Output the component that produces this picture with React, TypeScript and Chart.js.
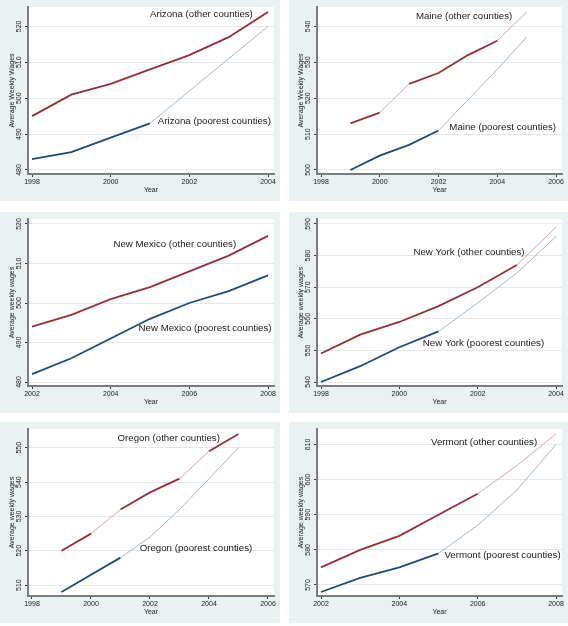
import React, { useEffect, useRef } from "react";
import { Chart, registerables } from "chart.js";

Chart.register(...registerables);

// ---------- data ----------
// Arizona
const azYears = [1998, 1999, 2000, 2001, 2002, 2003, 2004];
const azOther = [495, 501, 504, 508, 512, 517, 524];
const azPoorest = [483, 485, 489, 493, 502, 511, 520];
const azXTicks = [1998, 2000, 2002, 2004];
const azYTicks = [480, 490, 500, 510, 520];

// Maine
const meYears = [1999, 2000, 2001, 2002, 2003, 2004, 2005];
const meOther = [513, 516, 524, 527, 532, 536, 544];
const mePoorest = [500, 504, 507, 511, 519.5, 528, 537];
const meXTicks = [1998, 2000, 2002, 2004, 2006];
const meYTicks = [500, 510, 520, 530, 540];

// New Mexico
const nmYears = [2002, 2003, 2004, 2005, 2006, 2007, 2008];
const nmOther = [494, 497, 501, 504, 508, 512, 517];
const nmPoorest = [482, 486, 491, 496, 500, 503, 507];
const nmXTicks = [2002, 2004, 2006, 2008];
const nmYTicks = [480, 490, 500, 510, 520];

// New York
const nyYears = [1998, 1999, 2000, 2001, 2002, 2003, 2004];
const nyOther = [549, 555, 559, 564, 570, 577, 589];
const nyPoorest = [540, 545, 551, 556, 565, 574.5, 586];
const nyXTicks = [1998, 2000, 2002, 2004];
const nyYTicks = [540, 550, 560, 570, 580, 590];

// Oregon
const orYears = [1999, 2000, 2001, 2002, 2003, 2004, 2005];
const orOther = [520, 525, 532, 537, 541, 549, 554];
const orPoorest = [508, 513, 518, 524, 532, 541, 550];
const orXTicks = [1998, 2000, 2002, 2004, 2006];
const orYTicks = [510, 520, 530, 540, 550];

// Vermont
const vtYears = [2002, 2003, 2004, 2005, 2006, 2007, 2008];
const vtOther = [575, 580, 584, 590, 596, 604, 613];
const vtPoorest = [568, 572, 575, 579, 587, 597, 610];
const vtXTicks = [2002, 2004, 2006, 2008];
const vtYTicks = [570, 580, 590, 600, 610];

// ---------- styles ----------
const FONT = "'Liberation Sans', Arial, Helvetica, sans-serif";
const OUTER_BG = "#e9f1f2";
const GRID = "#e2eaed";
const AXIS = "#7c7c7c";
const TICK = "#3a3a3a";
const TEXT = "#1a1a1a";
const RED = "#952f3c";
const RED_FAINT = "#d9a5ac";
const BLUE = "#1f4a78";
const BLUE_FAINT = "#a5b9d0";

if (typeof document !== "undefined") {
  document.body.style.margin = "0";
}

type Label = { x: number; y: number; text: string };
type PanelCfg = {
  years: number[];
  other: number[];
  poorest: number[];
  xTicks: number[];
  yTicks: number[];
  yTitle: string;
  labels: Label[];
  otherFaint: number[];
  poorestFaint: number[];
  left: number;
  top: number;
  width: number;
};

const PANEL_H = 201;
const Y_AXIS_W = 28;
const X_AXIS_H = 27;
const PAD_TOP = 7;
const PAD_RIGHT = 6;

function Panel({ cfg }: { cfg: PanelCfg }) {
  const ref = useRef<HTMLCanvasElement>(null);
  useEffect(() => {
    const canvas = ref.current;
    if (!canvas) return;
    const plotW = cfg.width - Y_AXIS_W - PAD_RIGHT;
    const plotH = PANEL_H - X_AXIS_H - PAD_TOP;
    const xLo = Math.min(cfg.xTicks[0], cfg.years[0]);
    const xHi = Math.max(cfg.xTicks[cfg.xTicks.length - 1], cfg.years[cfg.years.length - 1]);
    const xppu = (plotW - 4 - 6) / (xHi - xLo);
    const allY = cfg.other.concat(cfg.poorest);
    const yLo = Math.min(cfg.yTicks[0], ...allY);
    const yHi = Math.max(cfg.yTicks[cfg.yTicks.length - 1], ...allY);
    const yppu = (plotH - 4 - 5) / (yHi - yLo);

    const bgPlugin = {
      id: "bg",
      beforeDraw(chart: any) {
        const { ctx, chartArea } = chart;
        ctx.save();
        ctx.fillStyle = OUTER_BG;
        ctx.fillRect(0, 0, chart.width, chart.height);
        ctx.fillStyle = "#ffffff";
        ctx.fillRect(chartArea.left, chartArea.top, chartArea.right - chartArea.left, chartArea.bottom - chartArea.top);
        ctx.restore();
      },
    };
    const labelPlugin = {
      id: "labels",
      afterDatasetsDraw(chart: any) {
        const { ctx, scales } = chart;
        ctx.save();
        ctx.font = `9.7px ${FONT}`;
        ctx.fillStyle = TEXT;
        ctx.textAlign = "left";
        ctx.textBaseline = "middle";
        cfg.labels.forEach((l) => {
          ctx.fillText(l.text, scales.x.getPixelForValue(l.x), scales.y.getPixelForValue(l.y));
        });
        ctx.restore();
      },
    };

    const seg = (faint: number[], c: string, fc: string) => ({
      borderColor: (ctx: any) => (faint.includes(ctx.p0DataIndex) ? fc : c),
      borderWidth: (ctx: any) => (faint.includes(ctx.p0DataIndex) ? 1 : 1.8),
    });

    const chart = new Chart(canvas, {
      type: "line",
      data: {
        datasets: [
          {
            label: "other",
            data: cfg.years.map((y, i) => ({ x: y, y: cfg.other[i] })),
            borderColor: RED,
            borderWidth: 1.8,
            pointRadius: 0,
            tension: 0,
            segment: seg(cfg.otherFaint, RED, RED_FAINT),
          },
          {
            label: "poorest",
            data: cfg.years.map((y, i) => ({ x: y, y: cfg.poorest[i] })),
            borderColor: BLUE,
            borderWidth: 1.8,
            pointRadius: 0,
            tension: 0,
            segment: seg(cfg.poorestFaint, BLUE, BLUE_FAINT),
          },
        ],
      },
      options: {
        responsive: false,
        animation: false,
        devicePixelRatio: 1,
        layout: { padding: { top: PAD_TOP, right: PAD_RIGHT, left: 0, bottom: 0 }, autoPadding: false },
        plugins: { legend: { display: false }, tooltip: { enabled: false } },
        scales: {
          x: {
            type: "linear",
            min: xLo - 4 / xppu,
            max: xHi + 6 / xppu,
            afterBuildTicks: (s: any) => {
              s.ticks = cfg.xTicks.map((v) => ({ value: v }));
            },
            afterFit: (s: any) => {
              s.height = X_AXIS_H;
              s.paddingLeft = 0;
              s.paddingRight = 0;
            },
            grid: { drawOnChartArea: false, drawTicks: true, tickLength: 3, tickColor: TICK, tickWidth: 1 },
            border: { display: true, color: AXIS, width: 2 },
            ticks: {
              autoSkip: false,
              maxRotation: 0,
              minRotation: 0,
              padding: 1,
              color: TEXT,
              font: { family: FONT, size: 7 },
              callback: (v: any) => String(v),
            },
            title: {
              display: true,
              text: "Year",
              color: TEXT,
              font: { family: FONT, size: 7 },
              padding: { top: 0, bottom: 7 },
            },
          },
          y: {
            type: "linear",
            min: yLo - 4 / yppu,
            max: yHi + 5 / yppu,
            afterBuildTicks: (s: any) => {
              s.ticks = cfg.yTicks.map((v) => ({ value: v }));
            },
            afterFit: (s: any) => {
              s.width = Y_AXIS_W;
              s.paddingTop = 0;
              s.paddingBottom = 0;
            },
            grid: { color: GRID, lineWidth: 1, drawTicks: true, tickLength: 3, tickColor: TICK, tickWidth: 1 },
            border: { display: true, color: AXIS, width: 2 },
            ticks: {
              autoSkip: false,
              minRotation: 90,
              maxRotation: 90,
              crossAlign: "center",
              padding: 0,
              color: TEXT,
              font: { family: FONT, size: 7 },
              callback: (v: any) => String(v),
            },
            title: {
              display: true,
              text: cfg.yTitle,
              color: TEXT,
              font: { family: FONT, size: 7 },
              padding: { top: 8, bottom: 0 },
            },
          },
        },
      } as any,
      plugins: [bgPlugin, labelPlugin],
    });
    return () => chart.destroy();
  }, [cfg]);
  return (
    <div style={{ position: "absolute", left: cfg.left, top: cfg.top, width: cfg.width, height: PANEL_H }}>
      <canvas ref={ref} width={cfg.width} height={PANEL_H} style={{ width: cfg.width, height: PANEL_H, display: "block" }} />
    </div>
  );
}

const panels: PanelCfg[] = [
  {
    years: azYears, other: azOther, poorest: azPoorest, xTicks: azXTicks, yTicks: azYTicks,
    yTitle: "Average Weekly Wages",
    labels: [
      { x: 2001.0, y: 523.4, text: "Arizona (other counties)" },
      { x: 2001.2, y: 493.5, text: "Arizona (poorest counties)" },
    ],
    otherFaint: [], poorestFaint: [3, 4, 5],
    left: 0, top: 0, width: 280,
  },
  {
    years: meYears, other: meOther, poorest: mePoorest, xTicks: meXTicks, yTicks: meYTicks,
    yTitle: "Average Weekly Wages",
    labels: [
      { x: 2001.23, y: 542.7, text: "Maine (other counties)" },
      { x: 2002.37, y: 511.9, text: "Maine (poorest counties)" },
    ],
    otherFaint: [1, 5], poorestFaint: [3, 4, 5],
    left: 289, top: 0, width: 279,
  },
  {
    years: nmYears, other: nmOther, poorest: nmPoorest, xTicks: nmXTicks, yTicks: nmYTicks,
    yTitle: "Average weekly wages",
    labels: [
      { x: 2004.07, y: 514.8, text: "New Mexico (other counties)" },
      { x: 2004.71, y: 493.6, text: "New Mexico (poorest counties)" },
    ],
    otherFaint: [], poorestFaint: [],
    left: 0, top: 212, width: 280,
  },
  {
    years: nyYears, other: nyOther, poorest: nyPoorest, xTicks: nyXTicks, yTicks: nyYTicks,
    yTitle: "Average weekly wages",
    labels: [
      { x: 2000.36, y: 580.9, text: "New York (other counties)" },
      { x: 2000.6, y: 552.2, text: "New York (poorest counties)" },
    ],
    otherFaint: [5], poorestFaint: [3, 4, 5],
    left: 289, top: 212, width: 279,
  },
  {
    years: orYears, other: orOther, poorest: orPoorest, xTicks: orXTicks, yTicks: orYTicks,
    yTitle: "Average weekly wages",
    labels: [
      { x: 2000.9, y: 552.6, text: "Oregon (other counties)" },
      { x: 2001.65, y: 520.7, text: "Oregon (poorest counties)" },
    ],
    otherFaint: [1, 4], poorestFaint: [2, 3, 4, 5],
    left: 0, top: 422, width: 280,
  },
  {
    years: vtYears, other: vtOther, poorest: vtPoorest, xTicks: vtXTicks, yTicks: vtYTicks,
    yTitle: "Average weekly wages",
    labels: [
      { x: 2004.81, y: 610.6, text: "Vermont (other counties)" },
      { x: 2005.15, y: 578.4, text: "Vermont (poorest counties)" },
    ],
    otherFaint: [4, 5], poorestFaint: [3, 4, 5],
    left: 289, top: 422, width: 279,
  },
];

export default function App() {
  return (
    <div style={{ position: "relative", width: 568, height: 626, background: "#ffffff" }}>
      <style>{"body{margin:0;}"}</style>
      {panels.map((p, i) => (
        <Panel key={i} cfg={p} />
      ))}
    </div>
  );
}
